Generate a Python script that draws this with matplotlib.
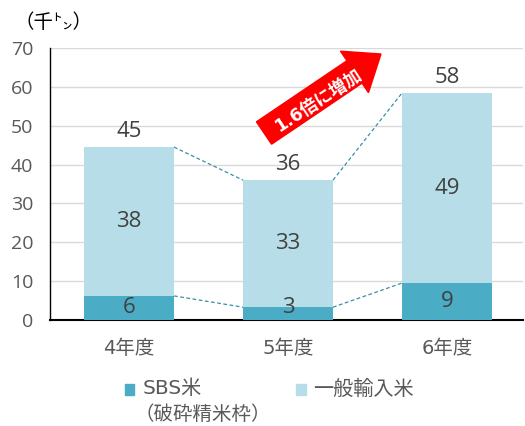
import matplotlib
matplotlib.use("Agg")
import matplotlib.pyplot as plt
from matplotlib.patches import FancyArrow, Rectangle
from matplotlib.transforms import IdentityTransform

plt.rcParams['font.family'] = ['Noto Sans CJK JP', 'DejaVu Sans']

categories = ['4年度', '5年度', '6年度']
sbs = [6.2, 3.3, 9.5]
general = [38.3, 32.7, 48.9]
sbs_labels = ['6', '3', '9']
general_labels = ['38', '33', '49']
total_labels = ['45', '36', '58']
yticks = [0, 10, 20, 30, 40, 50, 60, 70]

c_sbs = '#4BACC6'
c_gen = '#B7DEE8'
c_txt = '#404040'
c_tick = '#595959'

W, H = 525, 426
fig = plt.figure(figsize=(W / 100, H / 100), dpi=100)
ax = fig.add_axes([50 / W, (H - 320) / H, (523 - 50) / W, (320 - 48) / H])

x = list(range(len(categories)))
bw = 0.566
totals = [a + b for a, b in zip(sbs, general)]

ax.bar(x, sbs, bw, color=c_sbs, zorder=3)
ax.bar(x, general, bw, bottom=sbs, color=c_gen, zorder=3)

# connecting dashed lines
for i in range(len(x) - 1):
    for vals in (totals, sbs):
        ax.plot([x[i] + bw / 2, x[i + 1] - bw / 2], [vals[i], vals[i + 1]],
                ls=(0, (3, 2)), lw=0.9, color='#3A8FA8', zorder=2)

lf = ['Open Sans', 'DejaVu Sans']
for i in x:
    ax.text(i, max(sbs[i] / 2, 3.3), sbs_labels[i], ha='center', va='center',
            fontsize=16, color=c_txt, family=lf, zorder=4)
    ax.text(i, sbs[i] + general[i] / 2, general_labels[i], ha='center', va='center',
            fontsize=16, color=c_txt, family=lf, zorder=4)
    ax.text(i, totals[i] + 1.3, total_labels[i], ha='center', va='bottom',
            fontsize=16, color=c_txt, family=lf, zorder=4)

wide = ['DejaVu Sans', 'Noto Sans CJK JP']
ax.set_ylim(0, 70)
ax.set_xlim(-0.497, 2.478)
ax.set_yticks(yticks)
ax.set_yticklabels([str(v) for v in yticks], family=lf)
ax.set_xticks(x)
ax.set_xticklabels(categories, family=wide)
ax.tick_params(axis='y', length=0, labelsize=14, labelcolor=c_tick, pad=12)
ax.tick_params(axis='x', length=0, labelsize=14, labelcolor=c_tick, pad=14)
ax.yaxis.grid(True, color='#D9D9D9', lw=1, zorder=0)
ax.set_axisbelow(True)
for s in ('top', 'right'):
    ax.spines[s].set_visible(False)
ax.spines['left'].set_color('#000000')
ax.spines['left'].set_linewidth(1)
ax.spines['bottom'].set_color('#000000')
ax.spines['bottom'].set_linewidth(1.5)

# unit label
fig.text(15 / W, 1 - 22 / H, '（千㌧）', fontsize=14, color='#000000', va='center', ha='left')

# red arrow (display pixel coords)
tx, ty = 264, H - 133
hx, hy = 381, H - 54
arr = FancyArrow(tx, ty, hx - tx, hy - ty, width=27, head_width=50, head_length=32,
                 length_includes_head=True, color='#FF0000', transform=IdentityTransform(),
                 zorder=5)
fig.patches.append(arr)
fig.text(318 / W, 1 - 101 / H, '1.6倍に増加', rotation=33, rotation_mode='anchor',
         ha='center', va='center', fontsize=12.5, fontweight='bold', color='white',
         family=wide, zorder=6)

# legend
fig.patches.append(Rectangle((125 / W, 1 - 395 / H), 9 / W, 11 / H, transform=fig.transFigure,
                             color=c_sbs))
fig.text(143 / W, 1 - 389 / H, 'SBS米', fontsize=14.5, color=c_tick, va='center', family=wide)
fig.text(135 / W, 1 - 414 / H, '（破砕精米枠）', fontsize=14, color=c_tick, va='center')
fig.patches.append(Rectangle((296 / W, 1 - 395 / H), 10 / W, 11 / H, transform=fig.transFigure,
                             color=c_gen))
fig.text(313 / W, 1 - 389 / H, '一般輸入米', fontsize=14.5, color=c_tick, va='center')

fig.savefig('out.png', dpi=100)
